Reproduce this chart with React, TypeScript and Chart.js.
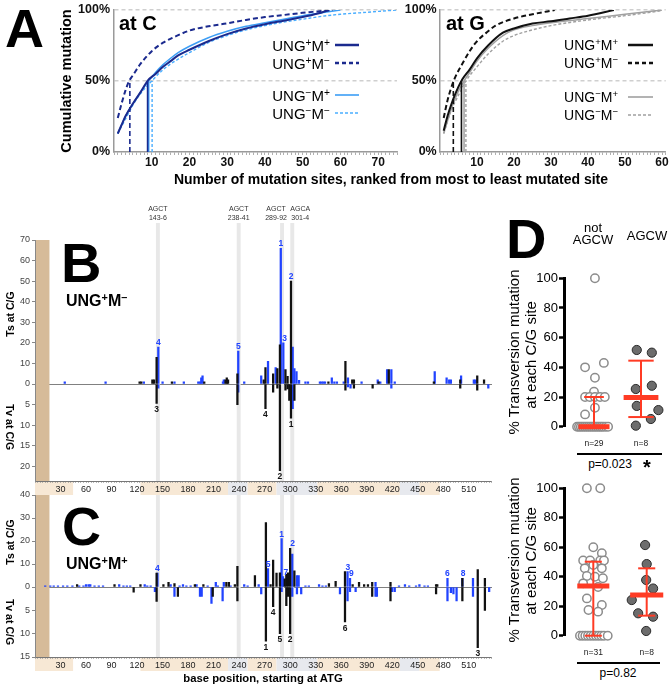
import React, { useEffect, useRef } from 'react';
import { Chart, registerables } from 'chart.js';

Chart.register(...registerables);

const FONT = "'Liberation Sans', Arial, Helvetica, sans-serif";

/* ================= Panel A : cumulative mutation ================= */
const atCTickLabels = [10, 20, 30, 40, 50, 60, 70];
const atGTickLabels = [10, 20, 30, 40, 50, 60];
const cumTickValues = [0, 50, 100];

// "at C"
const atC_UpMp_rank = [1, 2, 3, 5, 7, 9, 11, 13, 15, 17, 20, 25, 30, 35, 40, 45, 50, 54, 57];
const atC_UpMp_cum = [13, 19, 25, 34, 42, 50.5, 55, 60, 64, 68, 72, 78, 83, 87, 90, 92.5, 95, 97.5, 100];
const atC_UpMm_rank = [1, 2, 3, 4, 5, 7, 10, 13, 16, 20, 25, 30, 35, 40, 45, 50, 54, 58];
const atC_UpMm_cum = [24, 34, 43, 50, 54, 62, 71, 77, 81, 85.5, 88.5, 90.6, 93, 95, 96.5, 98, 99, 100];
const atC_UmMp_rank = [1, 2, 3, 5, 7, 9, 11, 13, 15, 17, 20, 25, 30, 35, 40, 45, 50, 55, 60];
const atC_UmMp_cum = [13, 19, 25, 34, 42, 49.5, 56, 61.5, 66, 70, 74.5, 80.5, 85, 88.5, 91, 93.5, 96, 98, 100];
const atC_UmMm_rank = [1, 2, 3, 5, 7, 10, 13, 15, 20, 25, 30, 35, 40, 45, 50, 55, 60, 65, 70, 75];
const atC_UmMm_cum = [13, 18, 23, 33, 41, 50, 58, 62, 70, 77, 82, 86, 89, 91.5, 93.5, 95.5, 97, 98, 99, 100];
const atC_half = [8.9, 4.2, 9.2, 10.1]; // rank where each curve reaches 50%

// "at G"
const atG_UpMp_rank = [1, 2, 3, 4, 6, 8, 10, 13, 17, 20, 25, 30, 35, 40, 47];
const atG_UpMp_cum = [15, 25, 33, 40, 51, 58, 66, 75, 84, 87, 90.5, 92, 94, 96, 100];
const atG_UpMm_rank = [1, 2, 3, 4, 6, 8, 10, 13, 15, 20, 25, 31];
const atG_UpMm_cum = [24, 36, 45, 52, 62, 71, 78, 85, 89, 94, 97, 100];
const atG_UmMp_rank = [1, 3, 5, 6.5, 8, 10, 13, 17, 20, 25, 30, 40, 50, 60];
const atG_UmMp_cum = [13, 30, 43, 50, 56, 64, 73, 82, 86, 89, 91, 94, 97, 100];
const atG_UmMm_rank = [1, 3, 5, 7, 10, 13, 17, 20, 25, 30, 40, 50, 60];
const atG_UmMm_cum = [13, 29, 40, 50, 60, 69, 78, 82, 86, 89, 93, 96, 99.5];
const atG_half = [5.8, 3.6, 6.5, 7.0];

/* ================= Panels B, C : mutation maps ================= */
const mapMaxPos = 537;
const mapTickLabels = [30, 60, 90, 120, 150, 180, 210, 240, 270, 300, 330, 360, 390, 420, 450, 480, 510];
const leaderRegion = [1, 17];
const hotspotStart = [143, 238, 289, 301];
const hotspotEnd = [146, 241, 292, 304];
const hotspotMotif = ['AGCT', 'AGCT', 'AGCT', 'AGCA'];
const hotspotName = ['143-6', '238-41', '289-92', '301-4'];
const regionStart = [0, 45, 124, 227, 250, 284, 332, 429, 452, 476];
const regionEnd = [45, 124, 227, 250, 284, 332, 429, 452, 476, 537];
const regionKind = ['tan', 'white', 'tan', 'gray', 'tan', 'gray', 'tan', 'gray', 'tan', 'white'];

type Pt = [number, number];
type Rank = [number, number, string];

// B: UNG+M-
const bTsTicks = [0, 10, 20, 30, 40, 50, 60, 70];
const bTvTicks = [0, 5, 10, 15, 20];
const bTsBlue: Pt[] = [[35, 1], [83, 1], [128, 1], [145, 18], [150, 1], [164, 1], [175, 1], [192, 1], [194, 1], [195.5, 3], [197, 4], [221, 1], [222, 2], [239, 16], [246, 1], [266, 4], [274, 11], [283, 8], [289, 66], [292, 20], [303, 18], [305, 7.5], [307.5, 6], [310.5, 1.8], [318, 1], [321, 1], [335, 1], [337, 1], [339, 1], [341, 1], [349, 3], [352, 1], [355, 1], [363, 1], [368, 3], [384, 1], [403, 2], [406, 1], [414, 7], [419, 7], [423, 1], [470, 6], [484, 3], [487, 2], [489, 2], [501, 4], [516, 2], [518, 2]];
const bTsBlack: Pt[] = [[123, 1], [125, 1], [138, 2], [140, 2], [143, 13], [161, 1], [199, 1], [224, 2], [225.5, 3], [227, 2], [238, 5], [269, 2], [271, 8], [280, 5], [285, 7.5], [288, 19], [294.5, 7], [297, 3.7], [301, 50], [345, 1], [365, 11], [373, 2], [375, 2], [404, 1], [416, 7], [469, 1], [500, 2], [520, 4], [528, 2]];
const bTvBlack: Pt[] = [[143, 4.7], [238, 5], [271, 6], [280, 2], [285, 1], [288, 21], [294.5, 1.5], [297, 1.2], [299, 4], [301, 8.3], [305, 4], [365, 1.5], [375, 1], [397, 1], [500, 1], [520, 1.5]];
const bTvBlue: Pt[] = [[145, 1], [239, 2], [303, 6], [368, 0.7], [371, 1], [419, 1], [533, 1]];
const bTsRanks: Rank[] = [[289, 66, '1'], [301, 50, '2'], [293.5, 20, '3'], [145, 18, '4'], [239, 16, '5']];
const bTvRanks: Rank[] = [[301, 8.3, '1'], [288, 21, '2'], [143, 4.7, '3'], [271, 6, '4']];

// C: UNG+M+
const cTsTicks = [0, 10, 20, 30, 40];
const cTvTicks = [0, 5, 10, 15];
const cTsBlue: Pt[] = [[12, 0.5], [18, 0.5], [22, 0.5], [27, 0.5], [33, 0.5], [38, 0.5], [44, 0.5], [52, 0.5], [57, 0.5], [60, 1], [63, 1], [65, 1], [70, 0.5], [75, 0.5], [80, 0.5], [99, 1], [104, 0.5], [108, 0.5], [112, 0.5], [129, 1], [132, 0.5], [136, 0.5], [144, 6], [159.5, 1], [170, 0.5], [174, 1], [178, 0.5], [183, 0.5], [190, 1], [203, 0.5], [212.6, 2], [215, 0.5], [222, 2], [230, 0.5], [246, 1], [250, 0.5], [263, 1], [274, 8], [290, 21], [291.6, 4.5], [302.5, 14.3], [308, 5], [310, 5], [318, 0.5], [322, 0.5], [334, 1], [338, 0.5], [342, 0.5], [367.5, 6.7], [370.4, 3.8], [400.4, 2], [428, 0.5], [435, 1], [440, 0.5], [448, 0.5], [452, 1], [458, 0.5], [462, 0.5], [485, 3.8], [502.5, 3.8], [515, 3.8]];
const cTsBlack: Pt[] = [[49.5, 1], [93.5, 1], [124, 1], [143, 6], [151, 1], [157, 2], [164, 1.5], [188, 1], [198, 1], [225, 2], [228, 2], [235, 1], [238, 9], [258.6, 5], [271.5, 28], [277, 1], [280, 11.7], [284, 6], [288, 6.2], [293.6, 3.5], [295.5, 5.5], [297.5, 6.2], [300, 16.8], [305, 7], [345.6, 1.5], [353.5, 2.5], [364.5, 6.7], [373.5, 1], [381, 2], [387, 1], [391.5, 1], [396.5, 2], [418, 2], [471.6, 1], [473, 1], [502.5, 3.8], [520.6, 7.6], [529, 3.8]];
const cTvBlack: Pt[] = [[116, 1.1], [143, 3.1], [168, 2], [209, 2], [238, 3], [271.5, 11.6], [280, 4.2], [288, 10], [295.5, 4], [297.5, 2], [300, 10], [364.5, 7.5], [396.5, 2], [418, 3], [471.6, 1.5], [502.5, 3], [520.6, 13], [529, 5]];
const cTvBlue: Pt[] = [[141, 1], [164, 2], [194, 2], [196, 2], [207.5, 3.5], [220.6, 3], [266, 1.5], [290, 1], [302.5, 2], [308, 1.5], [313, 1.5], [358.6, 1.5], [367.5, 3], [370.4, 1], [377, 1], [400.4, 2], [402, 2], [420, 1], [423, 1], [485, 3], [489, 1.2], [492, 1.5], [495.7, 3], [515, 2], [534, 1]];
const cTsRanks: Rank[] = [[290, 21, '1'], [303, 16.8, '2'], [368, 6.7, '3'], [144, 6, '4'], [274, 8, '5'], [485, 3.8, '6'], [295, 4.5, '7'], [503.5, 3.8, '8'], [372, 3.8, '9']];
const cTvRanks: Rank[] = [[271.5, 11.6, '1'], [300, 10, '2'], [520.6, 13, '3'], [280, 4.2, '4'], [288, 10, '5'], [364.5, 7.5, '6']];

/* ================= Panel D : transversion % per site ================= */
const dGroups = ['not AGCW', 'AGCW'];
const dTicks = [0, 20, 40, 60, 80, 100];
const dTopN = ['n=29', 'n=8'];
const dTopNotVal = [100, 43, 40, 33, 23.6, 20, 20, 20, 20, 20, 12.8, 8.3, 0, 0, 0, 0, 0, 0, 0, 0, 0, 0, 0, 0, 0, 0, 0, 0, 0];
const dTopNotJit = [0.02, 0.21, -0.19, 0.02, 0, -0.19, -0.09, 0.02, 0.13, 0.23, 0.02, -0.19, -0.36, -0.32, -0.28, -0.24, -0.2, -0.16, -0.12, -0.08, -0.04, 0, 0.04, 0.08, 0.12, 0.16, 0.2, 0.25, 0.3];
const dTopAgVal = [51.7, 49.9, 27.6, 25.4, 14, 11.2, 5.2, 0.7];
const dTopAgJit = [-0.09, 0.23, 0.23, -0.11, -0.09, 0.37, 0.21, -0.11];
const dTopMed = [0, 19.6];
const dTopQ1 = [0, 6.5];
const dTopQ3 = [20, 44.5];
const dTopP = 'p=0.023';

const dBotN = ['n=31', 'n=8'];
const dBotNotVal = [100, 100, 60, 56, 51, 51, 51, 51, 48, 45.7, 45.7, 40.5, 40, 39, 35.5, 33, 25.3, 20.8, 17.4, 16.3, 0, 0, 0, 0, 0, 0, 0, 0, 0, 0, 0];
const dBotNotJit = [-0.12, 0.13, 0, 0.16, -0.19, -0.06, 0.13, 0.2, 0, -0.16, 0.16, -0.12, 0.03, 0.18, -0.19, 0.09, -0.12, 0.16, -0.09, 0.09, -0.25, -0.2, -0.15, -0.1, -0.05, 0, 0.05, 0.1, 0.15, 0.2, 0.27];
const dBotAgVal = [61.5, 48.6, 37.8, 32, 24.2, 15.2, 12.9, 3.2];
const dBotAgJit = [-0.03, 0, -0.01, 0.12, -0.28, -0.16, 0.12, -0.01];
const dBotMed = [33.7, 27.6];
const dBotQ1 = [0, 13.6];
const dBotQ3 = [50.2, 45.7];
const dBotP = 'p=0.82';

/* ================= styling helpers ================= */
const NAVY = '#1b2a8e';
const LBLUE = '#3d9ef5';
const LBLUE2 = '#4aaeff';
const BLK = '#111111';
const GRAY = '#a0a0a0';
const BAR_BLUE = '#2143ff';
const RED = '#ff3b24';
const REGION_COLORS: Record<string, string> = { tan: '#f7e8d5', gray: '#e7e9ee', white: '#ffffff' };
const MOTIF_NUDGE = [0, 0, -6, 8];

const fitW = (w: number) => (s: any) => {
  s.width = w; s.paddingTop = 0; s.paddingBottom = 0; s.paddingLeft = 0; s.paddingRight = 0;
};
const fitH = (h: number) => (s: any) => {
  s.height = h; s.paddingTop = 0; s.paddingBottom = 0; s.paddingLeft = 0; s.paddingRight = 0;
};
const setTicks = (vals: number[]) => (s: any) => { s.ticks = vals.map((v) => ({ value: v })); };

type Series = { rank: number[]; cum: number[]; half: number; color: string; dash: number[]; width: number };

function cumConfig(series: Series[], xMax: number, labels: number[], yW: number, padR: number, yPad: number) {
  const datasets: any[] = [];
  series.forEach((s) => {
    datasets.push({
      data: s.rank.map((r, i) => ({ x: r, y: s.cum[i] })),
      borderColor: s.color, borderDash: s.dash, borderWidth: s.width,
      pointRadius: 0, cubicInterpolationMode: 'monotone', fill: false,
    });
    datasets.push({
      data: [{ x: s.half, y: 0 }, { x: s.half, y: 50 }],
      borderColor: s.color, borderDash: s.dash, borderWidth: Math.min(1.6, s.width), pointRadius: 0, fill: false,
    });
  });
  const minor: number[] = [];
  for (let v = 0; v <= xMax; v += 1) minor.push(v);
  return {
    type: 'line',
    data: { datasets },
    options: {
      responsive: false, animation: false, events: [],
      layout: { padding: { top: 10, right: padR, left: 0, bottom: 0 }, autoPadding: false },
      plugins: { legend: { display: false }, tooltip: { enabled: false } },
      scales: {
        x: {
          type: 'linear', min: 0, max: xMax,
          afterBuildTicks: setTicks(minor),
          afterFit: fitH(24),
          ticks: {
            autoSkip: false, maxRotation: 0, minRotation: 0, padding: 0, color: '#111',
            font: { family: FONT, size: 12, weight: 'bold' },
            callback: (v: any) => (labels.includes(v) ? String(v) : ''),
          },
          grid: { drawOnChartArea: false, drawTicks: true, tickLength: 3, color: '#9a9a9a', lineWidth: 0.8 },
          border: { color: '#9a9a9a', width: 1.5 },
        },
        y: {
          min: 0, max: 100,
          afterBuildTicks: setTicks(cumTickValues),
          afterFit: fitW(yW),
          ticks: { padding: yPad, color: '#111', font: { family: FONT, size: 12.5, weight: 'bold' }, callback: (v: any) => v + '%' },
          grid: {
            drawTicks: false, lineWidth: 1.5,
            color: (c: any) => (c.tick && c.tick.value === 0 ? 'rgba(0,0,0,0)' : '#cfcfcf'),
          },
          border: { color: '#9a9a9a', width: 1.5, dash: [4, 3] },
        },
      },
    },
  };
}

function mapDeco(cfg: { bandTop: number | null; strip: boolean; motif: boolean; ranks: Rank[]; rankColor: string; down: boolean }) {
  return {
    id: 'mapDeco',
    beforeDraw(chart: any) {
      const { ctx, chartArea: ca } = chart;
      const xs = chart.scales.x;
      const px = (v: number) => xs.getPixelForValue(v);
      ctx.save();
      ctx.fillStyle = '#d6bb99';
      ctx.fillRect(px(leaderRegion[0]), ca.top, px(leaderRegion[1]) - px(leaderRegion[0]), ca.bottom - ca.top);
      const bTop = cfg.bandTop === null ? ca.top : cfg.bandTop;
      const bBot = cfg.strip ? chart.height : ca.bottom;
      ctx.fillStyle = '#e8e8e8';
      hotspotStart.forEach((s, i) => {
        const x0 = px(s - 0.8);
        const x1 = px(hotspotEnd[i] + 0.8);
        ctx.fillRect(x0, bTop, x1 - x0, bBot - bTop);
      });
      if (cfg.strip) {
        regionStart.forEach((s, i) => {
          ctx.fillStyle = REGION_COLORS[regionKind[i]];
          ctx.fillRect(px(s), ca.bottom, px(regionEnd[i]) - px(s), chart.height - ca.bottom);
        });
      }
      if (cfg.motif) {
        ctx.fillStyle = '#333';
        ctx.font = `7px ${FONT}`;
        ctx.textAlign = 'center';
        ctx.textBaseline = 'alphabetic';
        hotspotStart.forEach((s, i) => {
          const x = (px(s) + px(hotspotEnd[i])) / 2 + MOTIF_NUDGE[i];
          ctx.fillText(hotspotMotif[i], x, 11);
          ctx.fillText(hotspotName[i], x, 20);
        });
      }
      ctx.restore();
    },
    afterDatasetsDraw(chart: any) {
      const { ctx } = chart;
      const xs = chart.scales.x;
      const ys = chart.scales.y;
      ctx.save();
      ctx.font = `bold 8.5px ${FONT}`;
      ctx.fillStyle = cfg.rankColor;
      ctx.textAlign = 'center';
      ctx.textBaseline = cfg.down ? 'top' : 'alphabetic';
      cfg.ranks.forEach(([pos, val, txt]) => {
        const x = xs.getPixelForValue(pos);
        const y = ys.getPixelForValue(val);
        ctx.fillText(txt, x, cfg.down ? y + 2 : y - 2);
      });
      ctx.restore();
    },
  };
}

function mapConfig(p: {
  blue: Pt[]; black: Pt[]; yMax: number; yTicks: number[]; down: boolean;
  padTop: number; padBottom: number; plugin: any;
}) {
  const minor: number[] = [];
  for (let v = 0; v <= mapMaxPos; v += 3) minor.push(v);
  const xScale: any = p.down
    ? {
        type: 'linear', min: 0, max: mapMaxPos, offset: false,
        afterBuildTicks: setTicks(minor),
        afterFit: fitH(14),
        ticks: {
          autoSkip: false, maxRotation: 0, minRotation: 0, padding: 1, color: '#222',
          font: { family: FONT, size: 9 },
          callback: (v: any) => (mapTickLabels.includes(v) ? String(v) : ''),
        },
        grid: { drawOnChartArea: false, drawTicks: true, tickLength: 2, color: '#8a8a8a', lineWidth: 0.6, offset: false },
        border: { color: '#777', width: 1 },
      }
    : {
        type: 'linear', min: 0, max: mapMaxPos, offset: false,
        afterFit: fitH(0),
        ticks: { display: false },
        grid: { display: false, drawTicks: false, offset: false },
        border: { display: true, color: '#808080', width: 1 },
      };
  return {
    type: 'bar',
    data: {
      datasets: [
        { data: p.black.map(([x, y]) => ({ x, y })), backgroundColor: BLK, order: 0 },
        { data: p.blue.map(([x, y]) => ({ x, y })), backgroundColor: BAR_BLUE, order: 1 },
      ],
    },
    options: {
      responsive: false, animation: false, events: [],
      layout: { padding: { top: p.padTop, right: 4.3, left: 0, bottom: p.padBottom }, autoPadding: false },
      datasets: { bar: { barThickness: 1.6, grouped: false, borderWidth: 0 } },
      plugins: { legend: { display: false }, tooltip: { enabled: false } },
      scales: {
        x: xScale,
        y: {
          min: 0, max: p.yMax, reverse: p.down,
          afterBuildTicks: setTicks(p.yTicks),
          afterFit: fitW(35),
          ticks: {
            padding: 2, color: '#444', font: { family: FONT, size: 9 },
            callback: (v: any) => (p.down && v === 0 ? '' : String(v)),
          },
          grid: { drawOnChartArea: false, tickLength: 3, color: '#888' },
          border: { color: '#888', width: 1 },
        },
      },
    },
    plugins: [p.plugin],
  };
}

function dotConfig(p: {
  notVal: number[]; notJit: number[]; agVal: number[]; agJit: number[];
  med: number[]; q1: number[]; q3: number[]; nLab: string[];
  xMin: number; xMax: number; medHalf: number[]; capHalf: number[]; xAxisH: number;
}) {
  const red: any[] = [];
  [1, 2].forEach((c, i) => {
    const seg = (pts: any[], w: number) =>
      red.push({ type: 'line', data: pts, borderColor: RED, borderWidth: w, pointRadius: 0, order: 0, clip: false, borderCapStyle: 'butt' });
    seg([{ x: c - p.medHalf[i], y: p.med[i] }, { x: c + p.medHalf[i], y: p.med[i] }], 5);
    seg([{ x: c, y: p.q1[i] }, { x: c, y: p.q3[i] }], 2);
    seg([{ x: c - p.capHalf[i], y: p.q1[i] }, { x: c + p.capHalf[i], y: p.q1[i] }], 2);
    seg([{ x: c - p.capHalf[i], y: p.q3[i] }, { x: c + p.capHalf[i], y: p.q3[i] }], 2);
  });
  return {
    type: 'scatter',
    data: {
      datasets: [
        ...red,
        {
          data: p.notVal.map((v, i) => ({ x: 1 + p.notJit[i], y: v })),
          pointRadius: 4.2, pointBackgroundColor: '#ffffff', pointBorderColor: '#8c8c8c', pointBorderWidth: 1.5,
          order: 2, clip: false,
        },
        {
          data: p.agVal.map((v, i) => ({ x: 2 + p.agJit[i], y: v })),
          pointRadius: 4.6, pointBackgroundColor: '#6c6c6c', pointBorderColor: '#2a2a2a', pointBorderWidth: 1,
          order: 2, clip: false,
        },
      ],
    },
    options: {
      responsive: false, animation: false, events: [],
      layout: { padding: { top: 16.3, right: 2, left: 0, bottom: 0 }, autoPadding: false },
      plugins: { legend: { display: false }, tooltip: { enabled: false } },
      scales: {
        x: {
          type: 'linear', min: p.xMin, max: p.xMax,
          afterBuildTicks: setTicks([1, 2]),
          afterFit: fitH(p.xAxisH),
          ticks: {
            autoSkip: false, maxRotation: 0, minRotation: 0, padding: 12, color: '#222',
            font: { family: FONT, size: 8.5 },
            callback: (v: any) => (v === 1 ? p.nLab[0] : v === 2 ? p.nLab[1] : ''),
          },
          grid: { display: false, drawTicks: false },
          border: { display: false },
        },
        y: {
          min: 0, max: 100,
          afterBuildTicks: setTicks(dTicks),
          afterFit: fitW(49),
          ticks: { padding: 1, color: '#000', font: { family: FONT, size: 13 } },
          grid: { drawOnChartArea: false, drawTicks: true, tickLength: 5, tickWidth: 2.5, tickColor: '#000', color: '#000' },
          border: { color: '#000', width: 3 },
        },
      },
    },
  };
}

/* ================= React components ================= */
function ChartCanvas({ x, y, w, h, make }: { x: number; y: number; w: number; h: number; make: () => any }) {
  const ref = useRef<HTMLCanvasElement | null>(null);
  useEffect(() => {
    const chart = new Chart(ref.current as HTMLCanvasElement, make());
    return () => chart.destroy();
  }, []);
  return <canvas ref={ref} width={w} height={h} style={{ position: 'absolute', left: x, top: y, width: w, height: h }} />;
}

function Label({ x, base, size, bold, align, color, children }: any) {
  const top = base - 0.8465 * size;
  const transform = align === 'center' ? 'translateX(-50%)' : align === 'right' ? 'translateX(-100%)' : undefined;
  return (
    <div style={{ position: 'absolute', left: x, top, fontSize: size, lineHeight: `${size}px`, fontWeight: bold ? 700 : 400, whiteSpace: 'nowrap', transform, color: color || '#000' }}>
      {children}
    </div>
  );
}

function Rot({ cx, cy, size, bold, rot, children }: any) {
  return (
    <div style={{ position: 'absolute', left: cx, top: cy, transform: `translate(-50%, -50%) rotate(${rot}deg)`, fontSize: size, lineHeight: `${size}px`, fontWeight: bold ? 700 : 400, whiteSpace: 'nowrap' }}>
      {children}
    </div>
  );
}

const Sup = ({ c }: { c: string }) => <span style={{ fontSize: '0.68em', position: 'relative', top: '-0.5em' }}>{c}</span>;
const Geno = ({ u, m }: { u: string; m: string }) => (
  <>
    UNG<Sup c={u} />M<Sup c={m} />
  </>
);

export default function App() {
  const seriesC: Series[] = [
    { rank: atC_UpMp_rank, cum: atC_UpMp_cum, half: atC_half[0], color: NAVY, dash: [], width: 2 },
    { rank: atC_UpMm_rank, cum: atC_UpMm_cum, half: atC_half[1], color: NAVY, dash: [5, 3], width: 2 },
    { rank: atC_UmMp_rank, cum: atC_UmMp_cum, half: atC_half[2], color: LBLUE, dash: [], width: 1.5 },
    { rank: atC_UmMm_rank, cum: atC_UmMm_cum, half: atC_half[3], color: LBLUE2, dash: [3, 2], width: 1.4 },
  ];
  const seriesG: Series[] = [
    { rank: atG_UpMp_rank, cum: atG_UpMp_cum, half: atG_half[0], color: BLK, dash: [], width: 2 },
    { rank: atG_UpMm_rank, cum: atG_UpMm_cum, half: atG_half[1], color: BLK, dash: [5, 3], width: 2 },
    { rank: atG_UmMp_rank, cum: atG_UmMp_cum, half: atG_half[2], color: GRAY, dash: [], width: 1.5 },
    { rank: atG_UmMm_rank, cum: atG_UmMm_cum, half: atG_half[3], color: GRAY, dash: [3, 2], width: 1.4 },
  ];

  const legendL = [
    { y: 45, color: NAVY, dash: '', w: 2.5, u: '+', m: '+' },
    { y: 63, color: NAVY, dash: '4 3', w: 2.5, u: '+', m: '−' },
    { y: 95, color: LBLUE, dash: '', w: 1.6, u: '−', m: '+' },
    { y: 113, color: LBLUE2, dash: '3 2', w: 1.6, u: '−', m: '−' },
  ];
  const legendR = [
    { y: 45, color: BLK, dash: '', w: 2.5, u: '+', m: '+' },
    { y: 63, color: BLK, dash: '4 3', w: 2.5, u: '+', m: '−' },
    { y: 97, color: GRAY, dash: '', w: 1.6, u: '−', m: '+' },
    { y: 115, color: GRAY, dash: '3 2', w: 1.6, u: '−', m: '−' },
  ];

  return (
    <div style={{ position: 'absolute', left: 0, top: 0, width: 672, height: 691, overflow: 'hidden', background: '#fff', fontFamily: FONT, color: '#000' }}>
      {/* Panel A */}
      <ChartCanvas x={62} y={0} w={340} h={176} make={() => cumConfig(seriesC, 75, atCTickLabels, 52, 5, 4)} />
      <ChartCanvas x={392} y={0} w={280} h={176} make={() => cumConfig(seriesG, 61, atGTickLabels, 48, 6.3, 3.3)} />

      {/* Panel B */}
      <ChartCanvas x={0} y={200} w={496} h={192} make={() => mapConfig({ blue: bTsBlue, black: bTsBlack, yMax: 70, yTicks: bTsTicks, down: false, padTop: 40, padBottom: 8, plugin: mapDeco({ bandTop: 23, strip: false, motif: true, ranks: bTsRanks, rankColor: BAR_BLUE, down: false }) })} />
      <ChartCanvas x={0} y={376} w={496} h={119} make={() => mapConfig({ blue: bTvBlue, black: bTvBlack, yMax: 23.5, yTicks: bTvTicks, down: true, padTop: 8, padBottom: 0, plugin: mapDeco({ bandTop: null, strip: true, motif: false, ranks: bTvRanks, rankColor: BLK, down: true }) })} />
      {/* Panel C */}
      <ChartCanvas x={0} y={487} w={496} h={108} make={() => mapConfig({ blue: cTsBlue, black: cTsBlack, yMax: 40, yTicks: cTsTicks, down: false, padTop: 8, padBottom: 8, plugin: mapDeco({ bandTop: null, strip: false, motif: false, ranks: cTsRanks, rankColor: BAR_BLUE, down: false }) })} />
      <ChartCanvas x={0} y={579} w={496} h={92} make={() => mapConfig({ blue: cTvBlue, black: cTvBlack, yMax: 15, yTicks: cTvTicks, down: true, padTop: 8, padBottom: 0, plugin: mapDeco({ bandTop: null, strip: true, motif: false, ranks: cTvRanks, rankColor: BLK, down: true }) })} />

      {/* Panel D */}
      <ChartCanvas x={515} y={262} w={157} h={190} make={() => dotConfig({ notVal: dTopNotVal, notJit: dTopNotJit, agVal: dTopAgVal, agJit: dTopAgJit, med: dTopMed, q1: dTopQ1, q3: dTopQ3, nLab: dTopN, xMin: 0.3617, xMax: 2.617, medHalf: [0.33, 0.37], capHalf: [0.21, 0.27], xAxisH: 25.3 })} />
      <ChartCanvas x={515} y={472} w={157} h={190} make={() => dotConfig({ notVal: dBotNotVal, notJit: dBotNotJit, agVal: dBotAgVal, agJit: dBotAgJit, med: dBotMed, q1: dBotQ1, q3: dBotQ3, nLab: dBotN, xMin: 0.4513, xMax: 2.4363, medHalf: [0.3, 0.31], capHalf: [0.16, 0.16], xAxisH: 26.3 })} />

      {/* ---- Panel A texts ---- */}
      <Label x={5} base={47} size={54} bold>A</Label>
      <Label x={119} base={30} size={20} bold>at C</Label>
      <Label x={446} base={29.5} size={20} bold>at G</Label>
      <Rot cx={66} cy={81} size={14.5} bold rot={-90}>Cumulative mutation</Rot>
      <Label x={391} base={183.5} size={14} bold align="center">Number of mutation sites, ranked from most to least mutated site</Label>
      {legendL.map((l, i) => (
        <Label key={'ll' + i} x={330} base={l.y + 5.4} size={15} align="right"><Geno u={l.u} m={l.m} /></Label>
      ))}
      {legendR.map((l, i) => (
        <Label key={'lr' + i} x={618} base={l.y + 5} size={14} align="right"><Geno u={l.u} m={l.m} /></Label>
      ))}
      <svg width={672} height={140} style={{ position: 'absolute', left: 0, top: 0 }}>
        {legendL.map((l, i) => (
          <line key={'sl' + i} x1={335} x2={359} y1={l.y} y2={l.y} stroke={l.color} strokeWidth={l.w} strokeDasharray={l.dash || undefined} />
        ))}
        {legendR.map((l, i) => (
          <line key={'sr' + i} x1={628} x2={653} y1={l.y} y2={l.y} stroke={l.color} strokeWidth={l.w} strokeDasharray={l.dash || undefined} />
        ))}
      </svg>

      {/* ---- Panels B / C texts ---- */}
      <Label x={61} base={282} size={56} bold>B</Label>
      <Label x={66} base={307} size={16} bold>UNG<Sup c="+" />M<Sup c="–" /></Label>
      <Label x={62} base={544.5} size={54} bold>C</Label>
      <Label x={66} base={570} size={16} bold><Geno u="+" m="+" /></Label>
      <Rot cx={9.5} cy={314} size={10.5} bold rot={-90}>Ts at C/G</Rot>
      <Rot cx={9.5} cy={427} size={10.5} bold rot={90}>Tv at C/G</Rot>
      <Rot cx={9.5} cy={542} size={10.5} bold rot={-90}>Ts at C/G</Rot>
      <Rot cx={9.5} cy={622} size={10.5} bold rot={90}>Tv at C/G</Rot>
      <Label x={263} base={683} size={11.3} bold align="center">base position, starting at ATG</Label>

      {/* ---- Panel D texts ---- */}
      <Label x={506} base={258} size={56} bold>D</Label>
      <Label x={593} base={232.3} size={13} align="center">not</Label>
      <Label x={593} base={244.3} size={13} align="center">{dGroups[1]}</Label>
      <Label x={647} base={240.5} size={13} align="center">{dGroups[1]}</Label>
      <Rot cx={512.5} cy={352} size={15} rot={-90}>% Transversion mutation</Rot>
      <Rot cx={529.5} cy={355} size={15} rot={-90}>at each C/G site</Rot>
      <Rot cx={512.5} cy={560} size={15} rot={-90}>% Transversion mutation</Rot>
      <Rot cx={529.5} cy={561} size={15} rot={-90}>at each C/G site</Rot>
      <div style={{ position: 'absolute', left: 577, top: 453.3, width: 85, height: 2, background: '#000' }} />
      <Label x={610} base={468} size={12} align="center">{dTopP}</Label>
      <Label x={647} base={474} size={20} bold align="center">*</Label>
      <div style={{ position: 'absolute', left: 577, top: 661.7, width: 83, height: 2, background: '#000' }} />
      <Label x={618} base={677} size={12} align="center">{dBotP}</Label>
    </div>
  );
}
